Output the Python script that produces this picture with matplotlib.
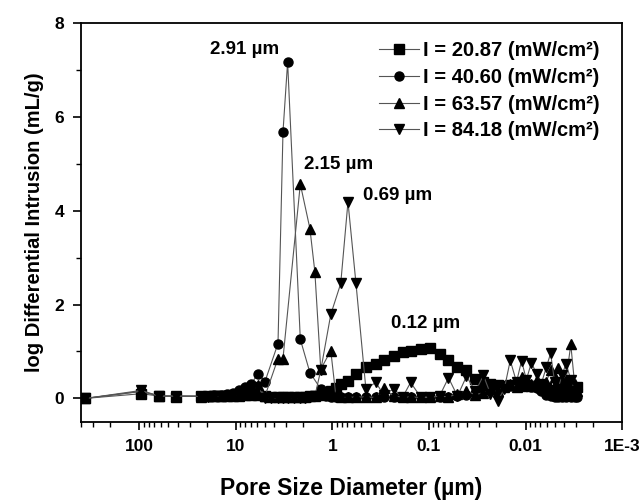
import numpy as np
import matplotlib
matplotlib.use('Agg')
import matplotlib.pyplot as plt
from matplotlib.ticker import LogLocator, MultipleLocator, NullFormatter

plt.rcParams['font.family'] = ['Liberation Sans', 'DejaVu Sans']
plt.rcParams['font.weight'] = 'bold'

nan = np.nan

# pore diameters (um), shared grid
diam = [361, 95.4, 62.1, 41.5, 22.9, 19.4, 16.8, 14.2, 12.3, 10.7,
        9.27, 8.04, 6.97, 5.90, 4.99, 4.33, 3.66, 3.25, 2.91, 2.51,
        2.15, 1.93, 1.71, 1.52, 1.32, 1.17, 1.04, 0.92, 0.82, 0.69,
        0.57, 0.45, 0.356, 0.294, 0.232, 0.187, 0.155, 0.122, 0.0986, 0.0777,
        0.0628, 0.0507, 0.0409, 0.0330, 0.0273, 0.0231, 0.0195, 0.0166, 0.0144, 0.0124,
        0.0110, 0.0098, 0.0087, 0.0077, 0.0069, 0.0061, 0.0055, 0.0050, 0.0046, 0.0042,
        0.0038, 0.0034, 0.0031, 0.0029]

# I = 20.87
sq = [0, 0.10, 0.05, 0.04, 0.05, 0.05, 0.05, 0.05, 0.06, 0.06,
      0.06, 0.07, 0.07, 0.07, 0.05, 0.03, 0.02, 0.02, 0.02, 0.03,
      0.03, 0.04, 0.05, 0.05, 0.07, 0.10, 0.15, 0.22, 0.31, 0.38,
      0.51, 0.66, 0.74, 0.81, 0.91, 0.98, 1.02, 1.06, 1.07, 0.94,
      0.81, 0.66, 0.61, 0.42, 0.35, 0.30, 0.28, 0.27, 0.28, 0.28,
      0.27, 0.28, 0.27, 0.26, 0.25, 0.22, 0.18, 0.12, 0.10, 0.12,
      0.15, 0.18, 0.22, 0.24]

# I = 40.60
ci = [0, 0.15, 0.05, 0.05, 0.05, 0.06, 0.07, 0.08, 0.09, 0.12,
      0.18, 0.25, 0.30, 0.53, 0.36, nan, 1.17, 5.68, 7.17, nan,
      1.26, nan, 0.55, nan, 0.20, 0.06, 0.04, 0.03, 0.02, 0.02,
      0.02, 0.02, 0.02, 0.02, 0.02, 0.02, 0.02, 0.02, 0.02, 0.03,
      0.04, 0.05, 0.08, 0.12, 0.18, 0.22, 0.24, 0.25, 0.26, 0.27,
      0.28, 0.27, 0.25, 0.22, 0.15, 0.08, 0.05, 0.04, 0.03, 0.03,
      0.04, 0.03, 0.03, 0.02]

# I = 63.57
tu = [0, 0.15, 0.05, 0.05, 0.04, 0.05, 0.05, 0.06, 0.07, 0.07,
      0.08, 0.15, 0.22, 0.28, 0.05, nan, 0.85, 0.85, nan, nan,
      4.57, nan, 3.62, 2.70, 0.62, nan, 1.02, 0.05, 0.02, 0.02,
      0.03, 0.03, 0.02, 0.22, 0.05, 0.03, 0.03, 0.02, 0.02, 0.05,
      0.03, 0.10, 0.15, 0.08, 0.12, 0.20, 0.15, 0.25, 0.30, 0.25,
      0.45, 0.35, 0.30, 0.40, 0.25, 0.35, 0.60, 0.45, 0.65, 0.40,
      0.40, 1.15, 0.30, 0.15]

# I = 84.18
td = [0, 0.17, 0.05, 0.05, 0.04, 0.04, 0.05, 0.05, 0.06, 0.07,
      0.08, 0.12, 0.20, 0.25, 0.0, 0.0, 0.0, 0.0, 0.0, 0.0,
      0.0, 0.0, 0.02, 0.05, 0.60, nan, 1.79, nan, 2.45, 4.19,
      2.45, 0.20, 0.34, 0.08, 0.20, 0.03, 0.34, 0.03, 0.03, 0.05,
      0.44, 0.05, 0.47, 0.15, 0.49, 0.10, -0.06, 0.20, 0.81, 0.35,
      0.80, 0.40, 0.76, 0.53, 0.30, 0.66, 0.96, 0.35, 0.20, 0.50,
      0.74, 0.40, 0.15, 0.10]

labels = ['I = 20.87 (mW/cm²)', 'I = 40.60 (mW/cm²)',
          'I = 63.57 (mW/cm²)', 'I = 84.18 (mW/cm²)']
markers = ['s', 'o', '^', 'v']

peak_text = ['2.91 µm', '2.15 µm', '0.69 µm', '0.12 µm']
peak_x = [8.2, 0.86, 0.21, 0.108]
peak_y = [7.43, 4.98, 4.32, 1.6]

fig = plt.figure(figsize=(6.44, 5.04), dpi=100)
ax = fig.add_axes([0.126, 0.163, 0.84, 0.791])

x = np.array(diam)
for vals, m, lab in zip([sq, ci, tu, td], markers, labels):
    y = np.array(vals, dtype=float)
    ok = ~np.isnan(y)
    ax.plot(x[ok], y[ok], color='#555555', lw=0.8, marker=m, markersize=6.5,
            markerfacecolor='black', markeredgecolor='black', label=lab)

for t, px, py in zip(peak_text, peak_x, peak_y):
    ax.text(px, py, t, ha='center', va='center', fontsize=13.5, fontweight='bold')

ax.set_xscale('log')
ax.set_xlim(400, 0.001)
ax.set_ylim(-0.5, 8)
ax.set_xticks([100, 10, 1, 0.1, 0.01, 0.001])
ax.set_xticklabels(['100', '10', '1', '0.1', '0.01', '1E-3'])
ax.xaxis.set_minor_locator(LogLocator(base=10, subs=np.arange(2, 10)))
ax.xaxis.set_minor_formatter(NullFormatter())
ax.set_yticks([0, 2, 4, 6, 8])
ax.yaxis.set_minor_locator(MultipleLocator(1))

ax.tick_params(which='major', direction='out', length=6, width=1.2, labelsize=12.5, pad=6)
ax.tick_params(which='minor', direction='out', length=3.5, width=1.0)
for s in ax.spines.values():
    s.set_linewidth(1.3)

ax.set_xlabel('Pore Size Diameter (µm)', fontsize=16.5, fontweight='bold', labelpad=17)
ax.set_ylabel('log Differential Intrusion (mL/g)', fontsize=14.5, fontweight='bold', labelpad=8)

ax.legend(loc='upper right', frameon=False, fontsize=14.5, handlelength=2.0,
          handletextpad=0.2, labelspacing=0.38, borderaxespad=0.3,
          bbox_to_anchor=(0.985, 0.99))

fig.savefig('out.png', dpi=100)
